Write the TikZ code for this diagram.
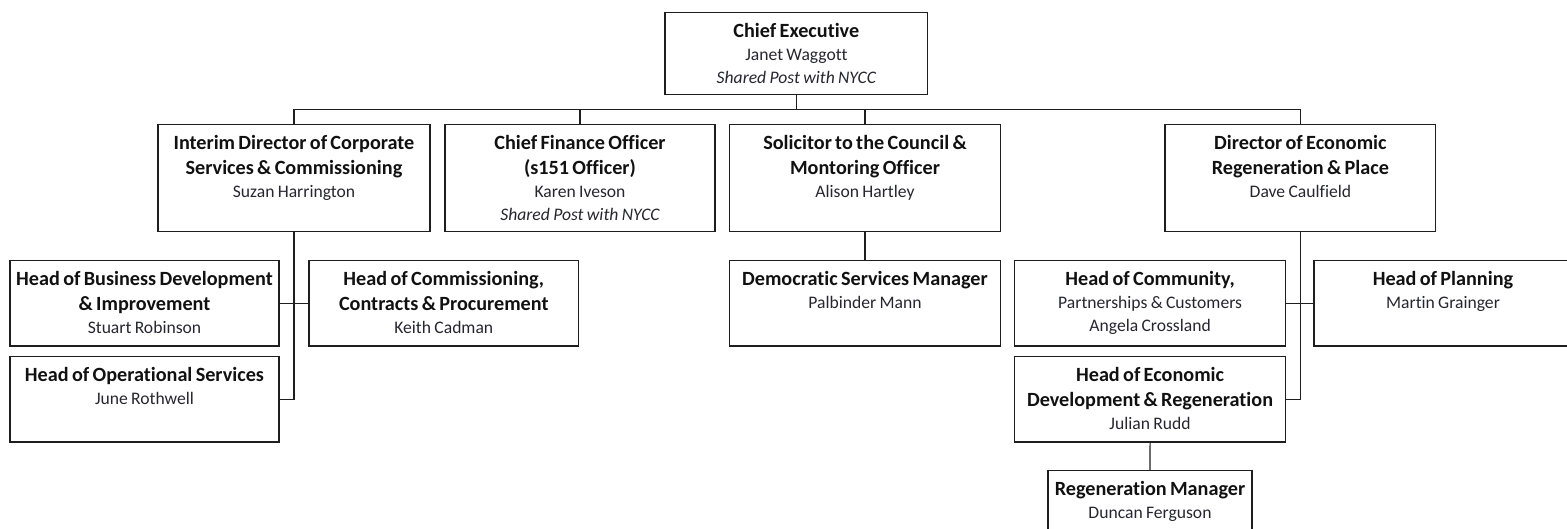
\documentclass[tikz,border=0pt]{standalone}
\usepackage{fontspec}
\setmainfont[Ligatures=NoCommon]{Carlito}
\usetikzlibrary{fit}
\setlength\parindent{0pt}
\definecolor{rule}{HTML}{1E1E1E}
\definecolor{ink}{HTML}{111111}
\definecolor{nameink}{HTML}{262630}
% one bold post title (may span several lines) and one line of regular text
\newcommand\posttitle[1]{{\fontsize{20.2}{25}\selectfont\bfseries\leavevmode\strut#1\par}}
\newcommand\postholder[1]{{\fontsize{17.6}{23}\selectfont\color{nameink}#1\par}}
\begin{document}
\begin{tikzpicture}[x=1pt,y=-1pt,
  box/.style={draw=rule, line width=1.2pt, inner sep=0pt, rectangle},
  posttext/.style={anchor=north, inner sep=0pt, text width=400pt, align=center, text=ink},
  link/.style={draw=rule, line width=1.2pt}]
\useasboundingbox (0,0) rectangle (1567,528);
\clip (0,0) rectangle (1567,528);

% boxes
\node[box, fit={(665,12.7) (927.7,94.3)}] (ce) {};
\node[box, fit={(158,124.3) (430,231.7)}] (interim) {};
\node[box, fit={(445,124.3) (715,231.7)}] (cfo) {};
\node[box, fit={(729.3,124.3) (1000.7,231.7)}] (sol) {};
\node[box, fit={(1165,124.3) (1435.8,231.7)}] (dir) {};
\node[box, fit={(10,260.7) (279,346)}] (hbd) {};
\node[box, fit={(309,260.7) (578.6,346)}] (hccp) {};
\node[box, fit={(10,356.7) (279,442)}] (hos) {};
\node[box, fit={(729.3,260.7) (1000.7,346)}] (dsm) {};
\node[box, fit={(1014.5,260.7) (1285.7,346)}] (comm) {};
\node[box, fit={(1314,260.7) (1572,346)}] (plan) {};
\node[box, fit={(1014.5,356.7) (1285.7,442)}] (econ) {};
\node[box, fit={(1048,470.7) (1252,545)}] (regen) {};

% texts
\node[posttext] (ce-t) at ([yshift=-8pt]ce.north)
  {\posttitle{Chief Executive}\postholder{Janet Waggott}\postholder{\itshape Shared Post with NYCC}};
\node[posttext] (interim-t) at ([yshift=-8pt]interim.north)
  {\posttitle{Interim Director of Corporate\\Services \& Commissioning}\postholder{Suzan Harrington}};
\node[posttext] (cfo-t) at ([yshift=-8pt]cfo.north)
  {\posttitle{Chief Finance Officer\\(s151 Officer)}\postholder{Karen Iveson}\postholder{\itshape Shared Post with NYCC}};
\node[posttext] (sol-t) at ([yshift=-8pt]sol.north)
  {\posttitle{Solicitor to the Council \&\\Montoring Officer}\postholder{Alison Hartley}};
\node[posttext] (dir-t) at ([yshift=-8pt]dir.north)
  {\posttitle{Director of Economic\\Regeneration \& Place}\postholder{Dave Caulfield}};
\node[posttext] (hbd-t) at ([yshift=-8pt]hbd.north)
  {\posttitle{Head of Business Development\\\& Improvement}\postholder{Stuart Robinson}};
\node[posttext] (hccp-t) at ([yshift=-8pt]hccp.north)
  {\posttitle{Head of Commissioning,\\Contracts \& Procurement}\postholder{Keith Cadman}};
\node[posttext] (hos-t) at ([yshift=-8pt]hos.north)
  {\posttitle{Head of Operational Services}\postholder{June Rothwell}};
\node[posttext] (dsm-t) at ([yshift=-8pt]dsm.north)
  {\posttitle{Democratic Services Manager}\postholder{Palbinder Mann}};
\node[posttext] (comm-t) at ([yshift=-8pt]comm.north)
  {\posttitle{Head of Community,}\postholder{Partnerships \& Customers}\postholder{Angela Crossland}};
\node[posttext] (plan-t) at ([yshift=-8pt]plan.north)
  {\posttitle{Head of Planning}\postholder{Martin Grainger}};
\node[posttext] (econ-t) at ([yshift=-8pt]econ.north)
  {\posttitle{Head of Economic\\Development \& Regeneration}\postholder{Julian Rudd}};
\node[posttext] (regen-t) at ([yshift=-8pt]regen.north)
  {\posttitle{Regeneration Manager}\postholder{Duncan Ferguson}};

% reporting lines
\coordinate (bus) at (797,109.5);
\draw[link] (ce.south) -- (ce.south |- bus);
\draw[link] (interim.north) -- (interim.north |- bus) -- (dir.north |- bus) -- (dir.north);
\draw[link] (cfo.north) -- (cfo.north |- bus);
\draw[link] (sol.north) -- (sol.north |- bus);
\draw[link] (interim.south) |- (hos.east);
\draw[link] (hbd.east) -- (hccp.west);
\draw[link] (sol.south) -- (dsm.north);
\draw[link] (dir.south) |- (econ.east);
\draw[link] (comm.east) -- (plan.west);
\draw[link] (econ.south) -- (regen.north);
\end{tikzpicture}
\end{document}
